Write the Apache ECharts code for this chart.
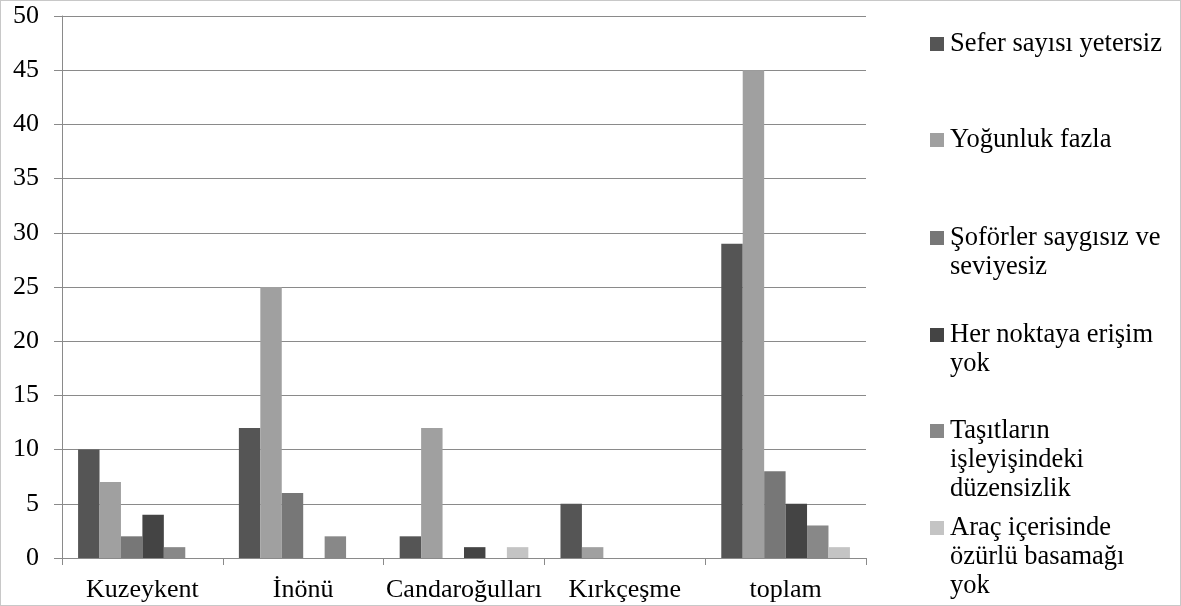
<!DOCTYPE html>
<html><head><meta charset="utf-8">
<script src="https://cdn.jsdelivr.net/npm/echarts@6/dist/echarts.min.js"></script>
<style>html,body{margin:0;padding:0;background:#fff}#c{width:1181px;height:606px}#b{position:absolute;left:0;top:0;width:1181px;height:606px;box-sizing:border-box;border:1px solid #c8c8c8;pointer-events:none}</style>
</head><body><div id="c"></div><div id="b"></div>
<script>
var categories = ['Kuzeykent', 'İnönü', 'Candaroğulları', 'Kırkçeşme', 'toplam'];
var seriesNames = ['Sefer sayısı yetersiz', 'Yoğunluk fazla', 'Şoförler saygısız ve seviyesiz', 'Her noktaya erişim yok', 'Taşıtların işleyişindeki düzensizlik', 'Araç içerisinde özürlü basamağı yok'];
var legendLines = [['Sefer sayısı yetersiz'], ['Yoğunluk fazla'], ['Şoförler saygısız ve', 'seviyesiz'], ['Her noktaya erişim', 'yok'], ['Taşıtların', 'işleyişindeki', 'düzensizlik'], ['Araç içerisinde', 'özürlü basamağı', 'yok']];
var seferValues = [10, 12, 2, 5, 29];
var yogunlukValues = [7, 25, 12, 1, 45];
var soforlerValues = [2, 6, 0, 0, 8];
var erisimValues = [4, 0, 1, 0, 5];
var duzensizlikValues = [1, 2, 0, 0, 3];
var ozurluValues = [0, 0, 1, 0, 1];
var yTicks = [0, 5, 10, 15, 20, 25, 30, 35, 40, 45, 50];

var allValues = [seferValues, yogunlukValues, soforlerValues, erisimValues, duzensizlikValues, ozurluValues];
var colors = ['#555555', '#a0a0a0', '#777777', '#444444', '#888888', '#c4c4c4'];
var firstLineCenters = [44, 140, 238, 335, 431, 528];
var LH = 29;
var font = '"Liberation Serif", "Times New Roman", serif';

var chart = echarts.init(document.getElementById('c'));
var legends = seriesNames.map(function (n, i) {
  var lines = legendLines[i];
  var k = lines.length;
  var blanks = [];
  for (var j = 0; j < k - 1; j++) blanks.push(' ');
  var label = blanks.concat(lines).join('\n');
  var top = firstLineCenters[i] - (k - 1) * LH - LH / 2;
  return {
    data: [n], left: 930, top: top, orient: 'vertical',
    itemWidth: 14, itemHeight: 14, itemGap: 0, padding: 0,
    icon: 'rect', selectedMode: false,
    formatter: function () { return label; },
    textStyle: { fontFamily: font, fontSize: 26.5, color: '#000', lineHeight: LH, padding: [0, 0, 0, 1] }
  };
});
chart.setOption({
  animation: false,
  backgroundColor: '#fff',
  color: colors,
  grid: { left: 62, right: 315, top: 16, bottom: 48, containLabel: false },
  legend: legends,
  xAxis: {
    type: 'category', data: categories,
    axisLine: { lineStyle: { color: '#8a8a8a', width: 1 } },
    axisTick: { show: true, length: 7, lineStyle: { color: '#8a8a8a' } },
    axisLabel: { fontFamily: font, fontSize: 26, color: '#000', margin: 19, interval: 0 }
  },
  yAxis: {
    type: 'value', min: yTicks[0], max: yTicks[yTicks.length - 1], interval: 5,
    axisLine: { show: true, lineStyle: { color: '#8a8a8a', width: 1 } },
    axisTick: { show: true, length: 8, lineStyle: { color: '#8a8a8a' } },
    splitLine: { lineStyle: { color: '#8a8a8a', width: 1 } },
    axisLabel: { fontFamily: font, fontSize: 26, color: '#000', margin: 23 }
  },
  series: seriesNames.map(function (n, i) {
    return { name: n, type: 'bar', data: allValues[i], barGap: '0%', barCategoryGap: '20%',
      itemStyle: { color: colors[i] } };
  })
});
</script></body></html>
